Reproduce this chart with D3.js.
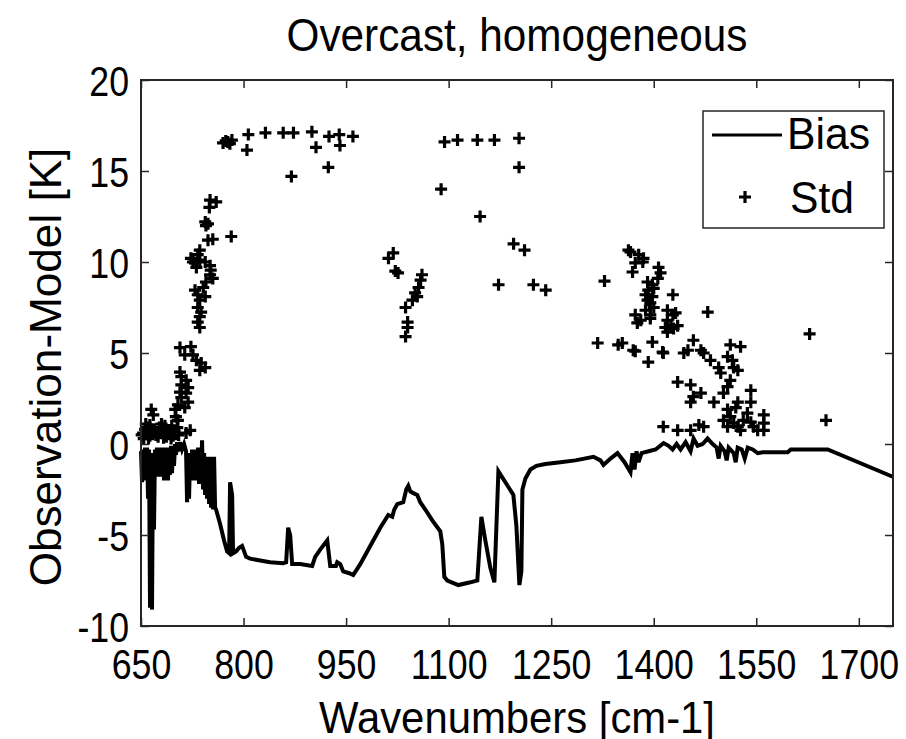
<!DOCTYPE html>
<html>
<head>
<meta charset="utf-8">
<script src="https://cdn.jsdelivr.net/npm/d3@7"></script>
<style>
  body { margin: 0; background: #fff; }
  text { font-family: "Liberation Sans", Arial, sans-serif; fill: #000; }
</style>
</head>
<body>
<svg id="chart"></svg>
<script>
// bias curve
const biasWavenumbers = [
  650.0, 651.5, 652.9, 654.4, 655.9, 657.3, 658.8, 660.3, 661.7, 663.2,
  664.6, 666.1, 667.6, 669.0, 670.5, 672.0, 673.4, 674.9, 676.4, 677.8,
  679.3, 680.7, 682.2, 683.7, 685.1, 686.6, 688.1, 689.5, 691.0, 692.5,
  693.9, 695.4, 696.9, 698.3, 699.8, 701.2, 702.7, 704.2, 707.1, 710.0,
  713.0, 715.9, 717.4, 718.8, 720.3, 721.8, 723.2, 724.7, 726.1, 727.6,
  729.1, 730.5, 732.0, 733.5, 734.9, 736.4, 737.9, 739.3, 740.8, 742.3,
  743.7, 745.2, 746.6, 748.1, 749.6, 751.0, 752.5, 754.0, 755.4, 756.9,
  758.4, 759.8, 765.7, 771.5, 775.9, 778.9, 780.3, 783.3, 784.7, 789.1,
  793.5, 797.9, 803.8, 809.6, 824.3, 838.9, 857.9, 862.3, 865.3, 868.2,
  871.1, 882.8, 900.4, 904.8, 912.1, 922.4, 926.8, 935.1, 937.0, 941.4,
  945.8, 954.6, 960.4, 970.7, 985.3, 1000.0, 1011.7, 1017.5, 1020.5, 1024.9,
  1033.6, 1038.0, 1041.0, 1043.9, 1048.3, 1054.1, 1058.5, 1065.9, 1076.1, 1087.8,
  1090.7, 1093.7, 1098.1, 1114.2, 1131.8, 1142.0, 1147.9, 1153.7, 1161.0, 1166.9,
  1172.8, 1183.0, 1194.7, 1199.1, 1203.5, 1206.4, 1207.9, 1212.3, 1219.6, 1228.4,
  1241.6, 1263.5, 1285.5, 1311.9, 1322.1, 1326.5, 1336.8, 1347.0, 1357.3, 1366.0,
  1369.0, 1371.9, 1374.8, 1377.8, 1382.2, 1392.4, 1402.7, 1414.4, 1421.7, 1427.6,
  1433.4, 1439.3, 1446.6, 1453.9, 1458.3, 1464.2, 1471.5, 1478.8, 1486.2, 1492.0,
  1495.0, 1497.9, 1503.7, 1506.7, 1509.6, 1517.0, 1519.9, 1522.8, 1528.7, 1533.1,
  1537.5, 1544.8, 1552.1, 1559.5, 1596.0, 1600.4, 1654.5, 1749.7
];
const biasValues = [
  -0.4, -2.1, -0.3, -2.0, -0.2, -1.6, -0.2, -3.0, -0.3, -9.0,
  -1.0, -9.1, -0.5, -4.7, -0.3, -1.8, -0.2, -1.6, -0.3, -1.8,
  -0.2, -1.5, -0.2, -2.0, -0.3, -1.9, -0.2, -2.0, -0.3, -1.7,
  -0.1, -1.6, -0.1, -1.2, 0.0, -0.6, 0.1, -0.4, 0.1, -0.3,
  0.0, -0.4, -3.2, -0.5, -3.0, -0.6, -2.0, -0.3, -2.0, -0.4,
  -1.8, -0.3, -2.0, -0.2, -2.2, -0.3, -2.0, 0.2, -2.5, -0.5,
  -2.8, -0.7, -3.0, -0.8, -3.3, -0.7, -3.5, -0.8, -3.6, -0.7,
  -3.5, -3.6, -4.4, -5.3, -5.9, -6.0, -2.1, -2.8, -6.0, -5.9,
  -5.7, -5.6, -6.2, -6.3, -6.4, -6.5, -6.55, -6.5, -4.6, -5.0,
  -6.6, -6.6, -6.7, -6.2, -5.8, -5.3, -6.7, -6.7, -6.5, -6.6,
  -7.0, -7.1, -7.2, -6.6, -5.6, -4.6, -3.9, -4.0, -3.6, -3.3,
  -3.2, -2.5, -2.3, -2.6, -2.7, -2.8, -3.2, -3.6, -4.2, -4.8,
  -5.5, -7.3, -7.5, -7.75, -7.6, -7.5, -4.0, -5.3, -6.8, -7.6,
  -1.5, -2.1, -2.8, -4.5, -7.75, -7.0, -2.5, -1.9, -1.4, -1.2,
  -1.1, -1.0, -0.9, -0.7, -0.9, -1.15, -0.8, -0.5, -1.0, -1.55,
  -0.5, -1.4, -0.4, -1.0, -0.5, -0.4, -0.3, 0.05, -0.1, -0.3,
  0.0, -0.3, 0.1, -0.4, 0.3, -0.1, 0.0, 0.3, 0.0, -0.2,
  -0.8, -0.1, -0.4, -0.9, -0.2, -0.5, -1.0, -0.2, -0.3, -0.8,
  -0.2, -0.3, -0.5, -0.45, -0.45, -0.3, -0.3, -1.8
];

// std points
const stdWavenumbers = [
  770, 777, 783, 780, 774, 807, 805, 832, 858, 873, 870, 900, 906, 925, 924, 940, 941, 960,
  1094, 1113, 1142, 1167, 1203, 1203, 1089, 1146, 1195, 1211, 1173, 1224, 1242, 1328, 1318, 1348, 1373,
  1012, 1019, 1022, 1026, 1037, 1040, 1040, 1037, 1051, 1056, 1059, 1061, 1054, 1047,
  751, 760, 750, 744, 745, 748, 748, 755, 782, 736, 733, 723, 729, 731, 726, 736, 744, 751,
  752, 751, 755, 745, 741, 729, 733, 744, 736, 733, 738, 736, 733, 736,
  707, 723, 714, 726, 731, 738, 744, 736, 707, 709, 716, 709, 719, 707, 716, 709, 719, 704,
  714, 700, 701, 722, 716, 665, 668,
  653, 659, 663, 670, 675, 681, 687, 692, 697, 703, 704, 654, 685, 663,
  651, 656, 661, 666, 672, 677, 683, 689, 694, 699, 705, 657, 680, 695,
  1366, 1378, 1385, 1384, 1369, 1373, 1407, 1410, 1406, 1391, 1398, 1400, 1392, 1388, 1398, 1391,
  1395, 1400, 1388, 1428, 1479, 1373, 1381, 1376, 1395, 1395, 1420, 1428, 1432, 1420, 1425, 1417,
  1429, 1420, 1435, 1354, 1370, 1398, 1392, 1413, 1414, 1444, 1450, 1458, 1469, 1473, 1512, 1527,
  1483, 1495, 1498, 1508, 1515, 1517, 1523, 1512, 1508, 1502, 1435, 1454, 1469, 1458, 1454, 1488,
  1542, 1542, 1523, 1520, 1508, 1512, 1502, 1517, 1508, 1523, 1531, 1537, 1542, 1546, 1552, 1561,
  1561, 1561, 1527, 1414, 1435, 1454, 1466, 1473, 1628, 1652, 1363
];
const stdValues = [
  16.54, 16.6, 16.7, 16.5, 16.65, 17.0, 16.15, 17.1, 17.1, 17.1, 14.7, 17.15, 16.3, 16.9, 15.2, 17.0, 16.4, 16.9,
  16.6, 16.7, 16.7, 16.7, 16.8, 15.2, 14.0, 12.5, 11.0, 10.65, 8.75, 8.75, 8.45, 8.95, 5.55, 5.45, 5.1,
  10.2, 10.5, 9.5, 9.4, 7.5, 6.7, 6.4, 5.9, 8.3, 8.6, 9.0, 9.3, 8.1, 7.9,
  13.4, 13.3, 13.0, 12.2, 12.0, 12.1, 11.2, 11.25, 11.4, 10.65, 10.4, 10.2, 9.95, 9.7, 10.0, 10.1, 10.0, 9.8,
  9.55, 9.3, 9.1, 8.9, 8.6, 8.45, 8.2, 8.1, 7.9, 7.5, 7.25, 7.0, 6.7, 6.4,
  5.3, 5.35, 4.9, 4.9, 4.6, 4.45, 4.2, 4.05, 3.95, 3.7, 3.5, 3.25, 3.1, 2.85, 2.8, 2.55, 2.3, 2.15,
  2.0, 1.9, 1.5, 0.75, 0.6, 1.9, 1.6,
  0.6, 0.9, 0.45, 0.75, 0.4, 0.65, 0.4, 0.75, 0.45, 0.9, 1.3, 0.3, 1.0, 1.05,
  0.5, 0.8, 0.3, 0.7, 0.5, 0.9, 0.35, 0.7, 0.3, 0.7, 0.5, 1.1, 1.1, 1.0,
  10.55, 10.4, 10.2, 10.0, 9.45, 9.95, 9.7, 9.4, 9.1, 8.9, 8.75, 8.55, 8.45, 8.2, 8.1, 7.9,
  7.75, 7.5, 7.35, 8.2, 7.25, 7.1, 6.8, 6.65, 6.9, 7.1, 7.35, 7.1, 7.2, 6.8, 6.5, 6.4,
  6.35, 6.15, 6.5, 5.55, 5.15, 5.6, 4.5, 5.05, 5.0, 5.0, 5.15, 5.7, 5.15, 5.0, 5.45, 5.35,
  4.6, 4.2, 3.9, 4.8, 4.6, 4.2, 4.05, 3.5, 3.15, 2.8, 3.4, 3.25, 2.8, 2.6, 2.3, 2.3,
  2.95, 2.3, 2.3, 2.0, 1.9, 1.5, 1.3, 1.15, 0.95, 0.95, 1.3, 1.7, 1.2, 0.95, 0.75, 1.6,
  1.15, 0.75, 0.75, 0.95, 0.75, 0.75, 1.05, 0.95, 6.05, 1.3, 10.65
];

const xTicks = [650, 800, 950, 1100, 1250, 1400, 1550, 1700];
const yTicks = [-10, -5, 0, 5, 10, 15, 20];
const seriesNames = ["Bias", "Std"];

const containerWidth = 906;
const containerHeight = 739;
const margin = { top: 80, right: 13, bottom: 113, left: 141 };
const width = containerWidth - margin.left - margin.right;
const height = containerHeight - margin.top - margin.bottom;
const axisColor = "#262626";
const tickSx = 0.85; // the tick labels are drawn a bit narrow

const svg = d3.select("#chart")
  .attr("width", containerWidth)
  .attr("height", containerHeight);

const chart = svg.append("g")
  .attr("transform", `translate(${margin.left},${margin.top})`);

const xScale = d3.scaleLinear().domain([650, 1750]).range([0, width]);
const yScale = d3.scaleLinear().domain([-10, 20]).range([height, 0]);

// text with a horizontal squeeze, placed at (x, y)
function addText(parent, x, y, str, size, sx, anchor, rotate) {
  return parent.append("text")
    .attr("transform", `translate(${x},${y})${rotate ? ` rotate(${rotate})` : ""} scale(${sx},1)`)
    .attr("text-anchor", anchor || "start")
    .style("font-size", `${size}px`)
    .text(str);
}

// bias line
const bias = biasWavenumbers.map((w, i) => ({ x: w, y: biasValues[i] }));
chart.append("path")
  .datum(bias)
  .attr("fill", "none")
  .attr("stroke", "#000")
  .attr("stroke-width", 4)
  .attr("stroke-linejoin", "miter")
  .attr("d", d3.line().x(d => xScale(d.x)).y(d => yScale(d.y)));

// std markers
const plusPath = "M-6,0H6M0,-6V6";
const std = stdWavenumbers.map((w, i) => ({ x: w, y: stdValues[i] }));
chart.append("g")
  .selectAll("path")
  .data(std)
  .join("path")
  .attr("transform", d => `translate(${xScale(d.x)},${yScale(d.y)})`)
  .attr("d", plusPath)
  .attr("stroke", "#000")
  .attr("stroke-width", 3.2)
  .attr("fill", "none");

// axes: ticks point inward, mirrored on top and right
const tickLen = 8;
const fmt = d => String(d);
const xAxisBottom = chart.append("g")
  .attr("transform", `translate(0,${height})`)
  .call(d3.axisBottom(xScale).tickValues(xTicks).tickSize(-tickLen).tickPadding(23).tickFormat(fmt).tickSizeOuter(0));
const xAxisTop = chart.append("g")
  .call(d3.axisTop(xScale).tickValues(xTicks).tickSize(-tickLen).tickFormat("").tickSizeOuter(0));
const yAxisLeft = chart.append("g")
  .call(d3.axisLeft(yScale).tickValues(yTicks).tickSize(-tickLen).tickPadding(12).tickFormat(fmt).tickSizeOuter(0));
const yAxisRight = chart.append("g")
  .attr("transform", `translate(${width},0)`)
  .call(d3.axisRight(yScale).tickValues(yTicks).tickSize(-tickLen).tickFormat("").tickSizeOuter(0));

[xAxisBottom, xAxisTop, yAxisLeft, yAxisRight].forEach(g => {
  g.select(".domain").remove();
  g.selectAll("line").attr("stroke", axisColor).attr("stroke-width", 1.5);
  g.selectAll("text")
    .style("font-family", "'Liberation Sans', Arial, sans-serif")
    .style("font-size", "42px")
    .attr("fill", "#000")
    .attr("transform", `scale(${tickSx},1)`);
});
yAxisLeft.selectAll("text").attr("x", -12 / tickSx).attr("dy", "0.36em");

chart.append("rect")
  .attr("width", width)
  .attr("height", height)
  .attr("fill", "none")
  .attr("stroke", axisColor)
  .attr("stroke-width", 2);

// title and axis labels
addText(svg, margin.left + width / 2, 51, "Overcast, homogeneous", 46, 0.92, "middle");
addText(svg, margin.left + width / 2, 733, "Wavenumbers [cm-1]", 45, 0.93, "middle");
addText(svg, 61, 367, "Observation-Model [K]", 45, 0.98, "middle", -90);

// legend
const legend = svg.append("g").attr("transform", "translate(703,111)");
legend.append("rect")
  .attr("width", 181)
  .attr("height", 117)
  .attr("fill", "#fff")
  .attr("stroke", axisColor)
  .attr("stroke-width", 1.5);
legend.append("line")
  .attr("x1", 9).attr("x2", 79)
  .attr("y1", 24).attr("y2", 24)
  .attr("stroke", "#000")
  .attr("stroke-width", 3);
addText(legend, 84, 38, seriesNames[0], 44, 0.97);
legend.append("path")
  .attr("transform", "translate(42,86)")
  .attr("d", plusPath)
  .attr("stroke", "#000")
  .attr("stroke-width", 3.2);
addText(legend, 87, 102, seriesNames[1], 44, 0.97);
</script>
</body>
</html>
